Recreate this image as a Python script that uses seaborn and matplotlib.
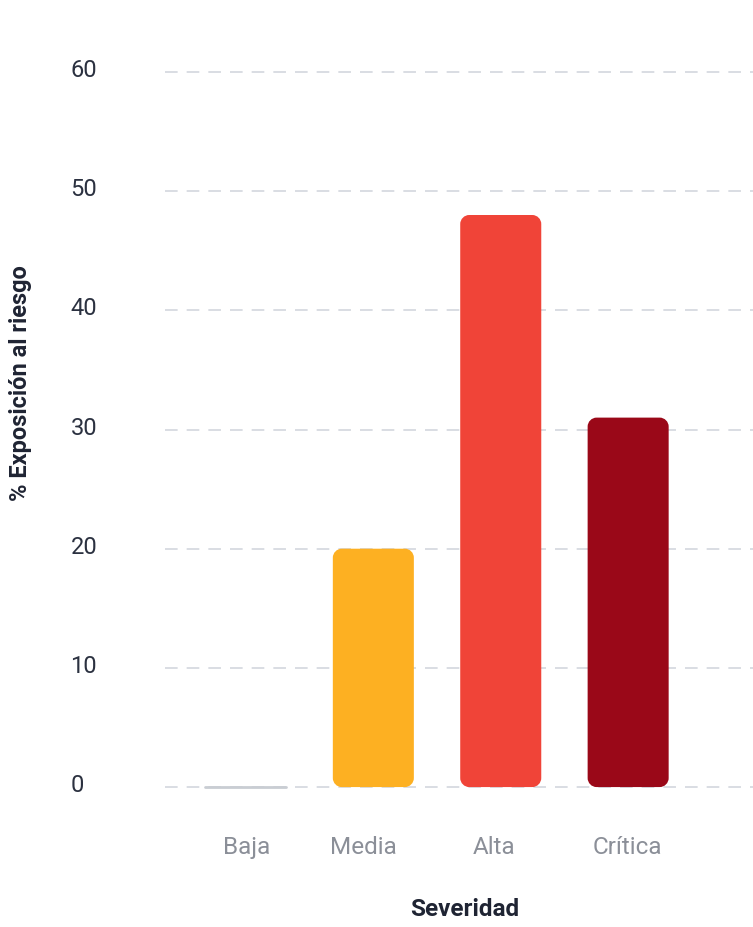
import numpy as np
import pandas as pd
import matplotlib
matplotlib.use("Agg")
import matplotlib.pyplot as plt
import matplotlib.transforms as mtransforms
import seaborn as sns
from matplotlib.path import Path
from matplotlib.patches import PathPatch

categories = ["Baja", "Media", "Alta", "Crítica"]
values = [0, 20, 48, 31]
colors = ["#c9cdd3", "#FDB022", "#F04438", "#9A0818"]

sns.set_style("white")
plt.rcParams["font.family"] = ["Roboto", "DejaVu Sans"]

df = pd.DataFrame({"Severidad": categories, "Exposicion": values})

fig = plt.figure(figsize=(7.53, 9.27), dpi=100)
ax = fig.add_axes([0.219, 0.1471, 0.781, 0.7791])

sns.barplot(data=df, x="Severidad", y="Exposicion", hue="Severidad",
            palette=colors, width=0.636, legend=False, ax=ax, saturation=1)

ax.set_xlim(-0.636, 3.98)
ax.set_ylim(-0.3, 60.3)


def rounded_rect(x, y, w, h, rx, ry):
    k = 0.5523
    verts = [
        (x + rx, y),
        (x + w - rx, y),
        (x + w - rx + k * rx, y), (x + w, y + ry - k * ry), (x + w, y + ry),
        (x + w, y + h - ry),
        (x + w, y + h - ry + k * ry), (x + w - rx + k * rx, y + h), (x + w - rx, y + h),
        (x + rx, y + h),
        (x + rx - k * rx, y + h), (x, y + h - ry + k * ry), (x, y + h - ry),
        (x, y + ry),
        (x, y + ry - k * ry), (x + rx - k * rx, y), (x + rx, y),
        (x + rx, y),
    ]
    codes = [Path.MOVETO, Path.LINETO,
             Path.CURVE4, Path.CURVE4, Path.CURVE4,
             Path.LINETO,
             Path.CURVE4, Path.CURVE4, Path.CURVE4,
             Path.LINETO,
             Path.CURVE4, Path.CURVE4, Path.CURVE4,
             Path.LINETO,
             Path.CURVE4, Path.CURVE4, Path.CURVE4,
             Path.CLOSEPOLY]
    return Path(verts, codes)


# swap bars for rounded ones
px_x = 127.4
px_y = 11.92
r = 9
for p in list(ax.patches):
    x, y = p.get_x(), p.get_y()
    w, h = p.get_width(), p.get_height()
    fc = p.get_facecolor()
    p.remove()
    if h <= 0:
        ax.plot([x, x + w], [0, 0], color="#c9cdd3", lw=2, solid_capstyle="round", zorder=3)
        continue
    ax.add_patch(PathPatch(rounded_rect(x, y, w, h, r / px_x, r / px_y),
                           facecolor=fc, edgecolor="none", zorder=3))

ax.set_yticks([0, 10, 20, 30, 40, 50, 60])
ax.yaxis.grid(True, color="#d7dae0", linestyle=(0, (7, 5)), linewidth=1.3)
ax.set_axisbelow(True)
sns.despine(ax=ax, left=True, bottom=True)

ax.tick_params(axis="y", length=0, pad=68, labelsize=17, labelcolor="#2b3140")
ax.tick_params(axis="x", length=0, pad=33, labelsize=17.5, labelcolor="#8b8f98")

up = mtransforms.ScaledTranslation(0, 4 / 100, fig.dpi_scale_trans)
for t in ax.get_yticklabels():
    t.set_horizontalalignment("left")
    t.set_transform(t.get_transform() + up)

# small per-label nudges seen in the reference (pixels)
nudges = [0.5, -10, -7, -1]
for t, dx in zip(ax.get_xticklabels(), nudges):
    t.set_transform(t.get_transform() + mtransforms.ScaledTranslation(dx / 100, 0, fig.dpi_scale_trans))

ax.set_xlabel("Severidad", fontsize=17.5, fontweight="bold", color="#1f2433", va="center")
ax.xaxis.set_label_coords(0.510, -0.165)
ax.set_ylabel("% Exposición al riesgo", fontsize=17, fontweight="bold", color="#1f2433", va="center")
ax.yaxis.set_label_coords(-0.245, 0.5637)

fig.savefig("out.png", dpi=100)
